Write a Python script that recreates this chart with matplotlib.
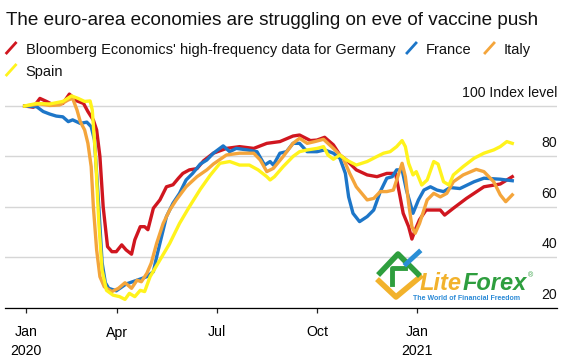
import numpy as np
import matplotlib
matplotlib.use("Agg")
import matplotlib.pyplot as plt
from matplotlib.lines import Line2D

plt.rcParams["font.family"] = ["Liberation Sans", "DejaVu Sans"]

# day offsets from 2020-01-01 and index level
de_days = [6, 14, 20, 26, 32, 41, 47, 54, 60, 64, 69, 72, 75, 78, 82, 86, 90, 95, 99, 104,
           107, 112, 116, 119, 124, 130, 136, 142, 147, 151, 157, 164, 170, 179, 191, 203, 216,
           228, 240, 252, 258, 268, 274, 281, 289, 295, 301, 310, 320, 329, 338, 346, 349, 353,
           358, 361, 364, 368, 374, 387, 391, 399, 411, 427, 442, 453]
de_vals = [100, 99.5, 103, 101.8, 100.5, 101, 104.7, 102, 101, 97.8, 94.4, 90.5, 80, 60, 44.3,
           42.3, 42.3, 45, 43, 41.3, 47, 52.2, 52.2, 51, 59.5, 62.8, 68, 68.8, 71.4, 73.3, 74.7,
           75.2, 78.3, 81.3, 83.2, 83.9, 83.2, 85.2, 85.9, 88.1, 88.5, 86.3, 86.5, 87.6, 84.6,
           80.6, 78.6, 74.7, 72.7, 72, 73.3, 73.3, 66.7, 57.5, 52.2, 47.3, 50.9, 55, 58.8, 58.8,
           56.8, 59.5, 63.4, 68, 69.1, 72]

fr_days = [6, 17, 23, 29, 35, 41, 46, 50, 57, 63, 67, 70, 74, 77, 80, 83, 90, 99, 109, 118,
           124, 127, 133, 136, 142, 148, 154, 160, 167, 173, 179, 188, 194, 200, 210, 219, 226,
           231, 234, 240, 246, 252, 258, 265, 274, 281, 289, 295, 300, 303, 307, 313, 320, 326,
           332, 338, 343, 347, 352, 356, 362, 367, 372, 378, 384, 390, 396, 405, 418, 427, 442, 453]
fr_vals = [100, 99.7, 97.8, 96.8, 96, 95.7, 93.8, 94.5, 93.1, 93.6, 91.8, 86.5, 60, 38, 30,
           27.8, 26.8, 29.5, 31, 32.4, 34.4, 40.3, 50.9, 56.2, 61.5, 65.4, 70.7, 73.3, 77, 78.6,
           81.3, 84.2, 81.9, 83.2, 82.6, 81.9, 76.6, 78, 76.6, 81.3, 81.9, 85.2, 85.2, 81.9, 81.9,
           82.6, 81.3, 79.3, 73.3, 64, 57.5, 54.2, 56.2, 58.8, 66.1, 71.4, 72, 74.7, 74.7, 66.7,
           57.5, 62.8, 66.7, 68, 66.7, 66.1, 67.7, 67.3, 70, 71.4, 71, 70.4]

it_days = [6, 20, 29, 38, 46, 50, 54, 57, 61, 64, 67, 69, 72, 75, 79, 86, 92, 98, 104, 109,
           113, 118, 122, 127, 133, 139, 145, 154, 164, 173, 179, 191, 203, 216, 222, 228, 234,
           243, 252, 258, 265, 272, 280, 289, 298, 304, 310, 320, 326, 332, 338, 344, 349, 352,
           355, 358, 361, 364, 368, 375, 381, 387, 393, 399, 408, 420, 427, 436, 442, 447, 453]
it_vals = [100, 100.8, 100.2, 100.4, 102.4, 103, 98.4, 93.8, 90.5, 85.2, 76, 60.1, 43, 32.4,
           28.4, 26.5, 27.8, 30, 27.8, 31, 30.4, 33.7, 37.7, 45.6, 53.5, 58.8, 62.8, 68, 72,
           74.7, 77, 80.6, 81.3, 81.3, 78.6, 74, 75.3, 80, 85.2, 87.2, 85.2, 85.9, 86.8, 83.2,
           79.3, 73.3, 68, 62.8, 63.4, 66.1, 66.1, 66.7, 73.3, 77.3, 72, 61.5, 52.2, 49.6, 53.5,
           62.8, 65.4, 64, 65.4, 70, 72.7, 74.9, 74, 70, 64.8, 62.1, 64.8]

es_days = [6, 17, 29, 41, 49, 55, 61, 66, 68, 71, 74, 77, 81, 87, 93, 98, 102, 107, 112, 116,
           121, 130, 139, 148, 157, 167, 176, 185, 194, 203, 212, 220, 228, 231, 235, 243, 252,
           258, 265, 274, 280, 284, 289, 295, 301, 310, 320, 329, 335, 341, 347, 352, 355, 358,
           362, 365, 370, 375, 381, 385, 390, 395, 399, 408, 418, 427, 436, 442, 448, 453]
es_vals = [100, 101, 100.8, 101.8, 104, 103, 101.8, 102, 98.4, 80, 53.5, 35, 27, 25.1, 24.5,
           23.4, 25.8, 24.5, 27, 26.5, 32.4, 39, 45.6, 53.5, 60.1, 67, 72.5, 77.3, 78, 76.6,
           76.6, 74.7, 72, 70.7, 72, 76, 80, 81.9, 82.6, 83.2, 83.9, 80.6, 78.9, 80.6, 78.6,
           76.6, 78, 80, 81.3, 81.9, 83.9, 86.3, 83.9, 77.3, 72.7, 74, 68.7, 70.7, 78, 77, 70,
           68.7, 72.7, 76, 79.3, 81.3, 82.6, 83.9, 85.9, 85.2]

series = [
    ("Bloomberg Economics' high-frequency data for Germany", de_days, de_vals, "#d0161f"),
    ("France", fr_days, fr_vals, "#1d76c8"),
    ("Italy", it_days, it_vals, "#f4a53b"),
    ("Spain", es_days, es_vals, "#fff31c"),
]

tick_dates = ["2020-01-08", "2020-04-01", "2020-07-01", "2020-10-01", "2021-01-01"]
tick_labels = ["Jan\n2020", "Apr", "Jul", "Oct", "Jan\n2021"]
grid_levels = [20, 40, 60, 80, 100]
grid_labels = ["20", "40", "60", "80", "100 Index level"]

W, H = 574, 363
base = np.datetime64("2020-01-01")


def fx(x):
    return x / W


def fy(y):
    return 1 - y / H


fig = plt.figure(figsize=(W / 100, H / 100), dpi=100)
ax = fig.add_axes([fx(5), fy(308), fx(557) - fx(5), fy(88.3) - fy(308)])

for name, days, vals, color in series:
    dates = base + np.array(days).astype("timedelta64[D]")
    ax.plot(dates, vals, color=color, lw=2.4, solid_joinstyle="round", zorder=3)

ax.set_xlim(np.datetime64("2019-12-20"), np.datetime64("2021-05-09"))
ax.set_ylim(20, 107)

ax.set_yticks(grid_levels)
ax.yaxis.grid(True, color="#d6d6d6", lw=1.0)
ax.tick_params(axis="y", length=0, labelleft=False)
for lvl, lab in zip(grid_levels, grid_labels):
    ax.annotate(lab, xy=(1.0, lvl), xycoords=("axes fraction", "data"),
                xytext=(0, 6.5), textcoords="offset points",
                ha="right", va="baseline", fontsize=10.2, color="#111111")

ax.set_xticks([np.datetime64(d) for d in tick_dates])
ax.set_xticklabels(tick_labels, fontsize=10.2, linespacing=1.45)
ax.tick_params(axis="x", length=3.6, width=0.9, pad=9, color="#222222")

for s in ["left", "right", "top"]:
    ax.spines[s].set_visible(False)
ax.spines["bottom"].set_linewidth(0.9)
ax.spines["bottom"].set_zorder(4)

# title and legend
fig.text(fx(6), fy(25), "The euro-area economies are struggling on eve of vaccine push",
         fontsize=13.6, va="baseline", ha="left", color="#111111")

legend_pos = [(6.6, 54), (407, 54), (485, 54), (6.6, 76)]
for (name, _, _, color), (lx, ly) in zip(series, legend_pos):
    fig.add_artist(Line2D([fx(lx), fx(lx + 9)], [fy(ly - 1), fy(ly - 11)],
                          color=color, lw=2, transform=fig.transFigure))
    fig.text(fx(lx + 19), fy(ly), name, fontsize=10.5, va="baseline", ha="left",
             color="#111111")

# LiteForex watermark
fig.add_artist(Line2D([fx(379), fx(396), fx(420)], [fy(281), fy(297), fy(277)],
                      color="#f2b22c", lw=4, transform=fig.transFigure, zorder=5))
fig.add_artist(Line2D([fx(380), fx(398), fx(418)], [fy(273), fy(254), fy(274)],
                      color="#2e9e3e", lw=4, transform=fig.transFigure, zorder=5))
fig.add_artist(Line2D([fx(392), fx(392), fx(405)], [fy(284), fy(268), fy(268)],
                      color="#2e9e3e", lw=3.5, transform=fig.transFigure, zorder=5))
fig.add_artist(Line2D([fx(406), fx(419)], [fy(264), fy(252)],
                      color="#2a8fd6", lw=3.5, transform=fig.transFigure, zorder=5))
lite = fig.text(fx(420), fy(290), "Lite", fontsize=17, fontweight="bold", fontstyle="italic",
                color="#f2b22c", va="baseline", zorder=6)
fig.canvas.draw()
lite_right = lite.get_window_extent().x1 / W
forex = fig.text(lite_right + 0.5 / W, fy(290), "Forex", fontsize=17, fontweight="bold",
                 fontstyle="italic", color="#2e9e3e", va="baseline", zorder=6)
fig.canvas.draw()
forex_right = forex.get_window_extent().x1 / W
fig.text(forex_right + 1 / W, fy(277), "®", fontsize=5, color="#2e9e3e", va="baseline", zorder=6)
fig.text(fx(413), fy(299.5), "The World of Financial Freedom", fontsize=5, fontweight="bold",
         color="#2b8ad6", va="baseline", zorder=6)

fig.savefig("out.png", dpi=100)
